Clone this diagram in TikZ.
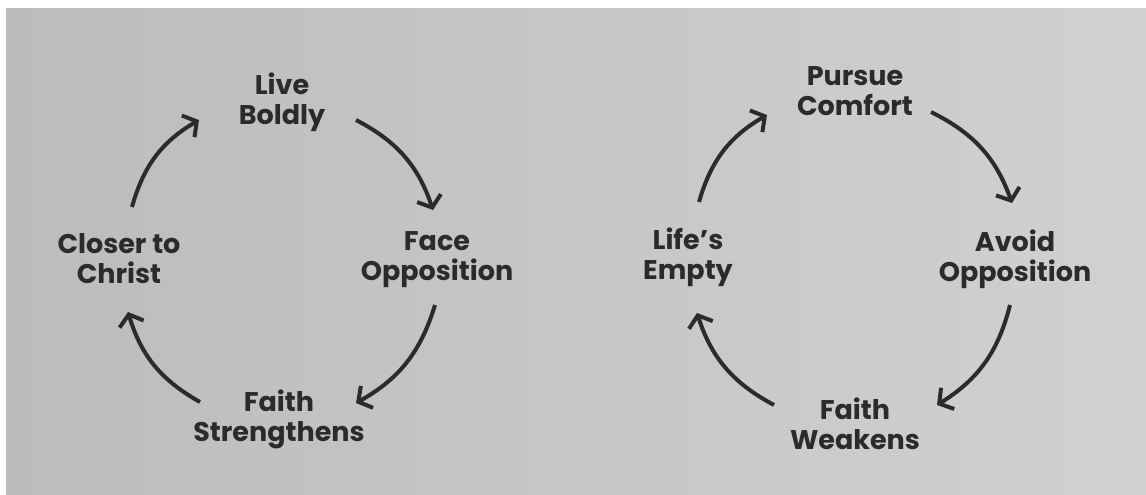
\documentclass[tikz,border=0pt]{standalone}
\usepackage{fontspec}
\setmainfont{Poppins}
\usetikzlibrary{arrows.meta}
\definecolor{ink}{HTML}{2B2B2B}
\definecolor{paperL}{HTML}{BDBCBA}
\definecolor{paperR}{HTML}{D3D1D0}
\tikzset{
  lbl/.style={text=ink, align=center, inner sep=0pt, font=\bfseries\fontsize{27}{30}\selectfont},
  cyc/.style={draw=ink, line width=4pt, -{Straight Barb[length=10pt,width=25pt]}, bend left=22}
}
\begin{document}
\begin{tikzpicture}[x=1pt,y=-1pt]
\useasboundingbox (0,0) rectangle (1146,495);
\fill[white] (0,0) rectangle (1146,495);
\shade[left color=paperL, right color=paperR] (6,9) rectangle (1150,500);
% left cycle
\node[lbl] (live) at (282,102) {Live\\Boldly};
\node[lbl] (face) at (437,260) {Face\\Opposition};
\node[lbl] (fstr) at (279,419) {Faith\\Strengthens};
\node[lbl] (closer) at (119,259) {Closer to\\Christ};
\coordinate (l1s) at (356,120); \coordinate (l1e) at (433,210);
\coordinate (l2s) at (435,305); \coordinate (l2e) at (356,403);
\coordinate (l3s) at (200,402); \coordinate (l3e) at (128,312);
\coordinate (l4s) at (132,207); \coordinate (l4e) at (199,120);
\draw[cyc] (l1s) to (l1e);
\draw[cyc] (l2s) to (l2e);
\draw[cyc] (l3s) to (l3e);
\draw[cyc] (l4s) to (l4e);
% right cycle
\node[lbl] (pursue) at (855,91) {Pursue\\Comfort};
\node[lbl] (avoid) at (1015,259) {Avoid\\Opposition};
\node[lbl] (fweak) at (855,424) {Faith\\Weakens};
\node[lbl] (lifes) at (688,257) {Life’s\\Empty};
\coordinate (r1s) at (931,112); \coordinate (r1e) at (1012,203);
\coordinate (r2s) at (1010,305); \coordinate (r2e) at (937,405);
\coordinate (r3s) at (774,405); \coordinate (r3e) at (697,313);
\coordinate (r4s) at (699,202); \coordinate (r4e) at (767,115);
\draw[cyc] (r1s) to (r1e);
\draw[cyc] (r2s) to (r2e);
\draw[cyc] (r3s) to (r3e);
\draw[cyc] (r4s) to (r4e);
\end{tikzpicture}
\end{document}
